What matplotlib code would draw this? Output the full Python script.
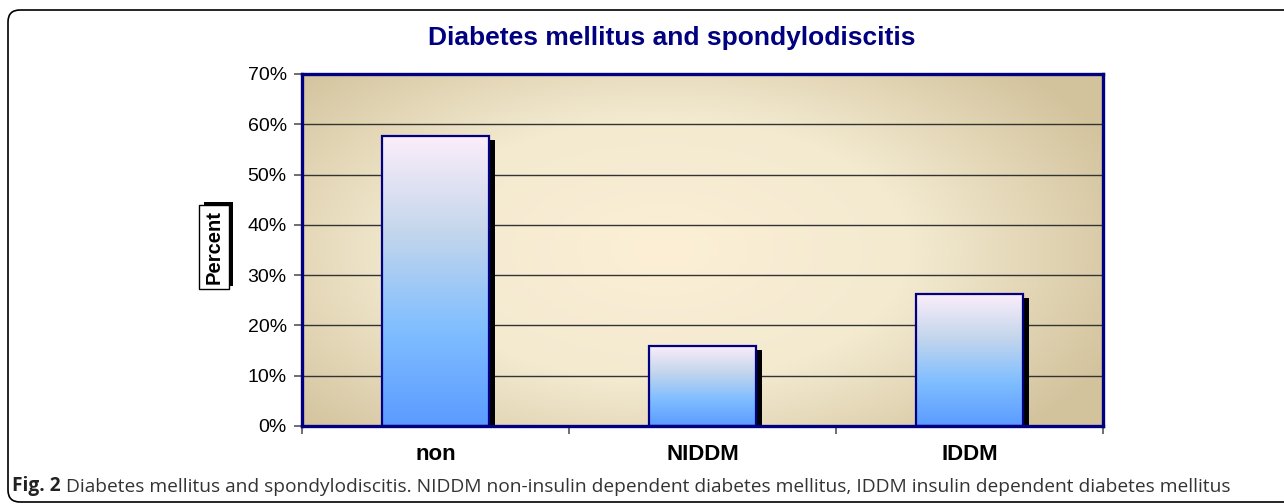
import numpy as np
import matplotlib.pyplot as plt
import matplotlib.patheffects as pe
from matplotlib.colors import LinearSegmentedColormap
from matplotlib.patches import FancyBboxPatch
from matplotlib.transforms import IdentityTransform
from matplotlib.ticker import PercentFormatter

# data
categories = ['non', 'NIDDM', 'IDDM']
percent = [57.7, 16.0, 26.3]
y_ticks = [0, 10, 20, 30, 40, 50, 60, 70]

navy = '#000080'

fig = plt.figure(figsize=(12.84, 5.04), dpi=100)
fig.patch.set_facecolor('white')

# outer rounded frame (pixel coords)
frame = FancyBboxPatch((8, 2), 1320, 492, boxstyle='round,pad=0,rounding_size=12',
                       transform=IdentityTransform(), fill=False, ec='black', lw=1.2)
fig.add_artist(frame)

ax = fig.add_axes([302 / 1284, 78 / 504, 801 / 1284, 352 / 504])
x = np.arange(len(categories))
ax.set_xlim(-0.5, len(categories) - 0.5)
ax.set_ylim(0, 70)

# tan background with a lighter centre
gx, gy = np.meshgrid(np.linspace(0, 1, 300), np.linspace(0, 1, 150))
d = np.sqrt(((gx - 0.45) / 0.62) ** 2 + ((gy - 0.5) / 0.75) ** 2)
d = np.clip(d, 0, 1)
bg_cmap = LinearSegmentedColormap.from_list('bg', ['#FCEFD6', '#F3EAD0', '#D3C39D'])
ax.imshow(d, cmap=bg_cmap, extent=[-0.5, len(categories) - 0.5, 0, 70],
          aspect='auto', zorder=0, origin='lower')

ax.set_yticks(y_ticks)
ax.yaxis.set_major_formatter(PercentFormatter(decimals=0))
ax.grid(axis='y', color='#333333', lw=1.0, zorder=1)
ax.set_axisbelow(True)

# bars: shadow first, then gradient fill, then outline
shadow = ax.bar(x, percent, width=0.4, color='none', edgecolor='none', zorder=2,
                path_effects=[pe.SimplePatchShadow(offset=(4.5, -3), shadow_rgbFace='black', alpha=1.0)])
bar_cmap = LinearSegmentedColormap.from_list('bar', ['#5B9BFF', '#80BEFF', '#C4D6EC', '#FCEEFA'])
grad = np.linspace(0, 1, 256).reshape(-1, 1)
for b in shadow:
    bx, by = b.get_xy()
    im = ax.imshow(grad, cmap=bar_cmap, origin='lower', aspect='auto', zorder=3,
                   extent=[bx, bx + b.get_width(), by, by + b.get_height()])
    im.set_clip_path(b)
ax.bar(x, percent, width=0.4, color='none', edgecolor=navy, lw=1.6, zorder=4)
ax.set_xlim(-0.5, len(categories) - 0.5)
ax.set_ylim(0, 70)

for s in ax.spines.values():
    s.set_color(navy)
    s.set_linewidth(2.4)
    s.set_zorder(5)

ax.set_xticks(x)
ax.set_xticklabels(categories, fontsize=16, fontweight='bold', family='Liberation Sans')
ax.set_xticks(np.arange(len(categories) + 1) - 0.5, minor=True)
ax.tick_params(axis='x', which='major', length=0, pad=13)
ax.tick_params(axis='x', which='minor', length=6, color='#555555', width=1.2)
ax.tick_params(axis='y', length=6, color='#555555', width=1.2, pad=5, labelsize=14)
for t in ax.get_yticklabels():
    t.set_family('Liberation Sans')

fig.text(672 / 1284, 1 - 38 / 504, 'Diabetes mellitus and spondylodiscitis', ha='center', va='center',
         fontsize=19, fontweight='heavy', color=navy, family='Liberation Sans')

ylab = fig.text(214 / 1284, 1 - 247 / 504, 'Percent', rotation=90, ha='center', va='center',
                fontsize=14.5, fontweight='bold', family='Liberation Sans',
                bbox=dict(boxstyle='square,pad=0.25', fc='white', ec='black', lw=1))
ylab.get_bbox_patch().set_path_effects(
    [pe.SimplePatchShadow(offset=(3, 2), shadow_rgbFace='black', alpha=1.0), pe.Normal()])

cap = fig.text(12 / 1284, 1 - 491 / 504, 'Fig. 2', ha='left', va='baseline',
               fontsize=13.8, fontweight='bold', color='#222222', family='Open Sans')
fig.canvas.draw()
ax.annotate(' Diabetes mellitus and spondylodiscitis. NIDDM non-insulin dependent diabetes mellitus, '
            'IDDM insulin dependent diabetes mellitus',
            xy=(1, 0), xycoords=cap, ha='left', va='bottom', annotation_clip=False,
            fontsize=13.8, color='#333333', family='Open Sans')

fig.savefig('out.png', dpi=100)
